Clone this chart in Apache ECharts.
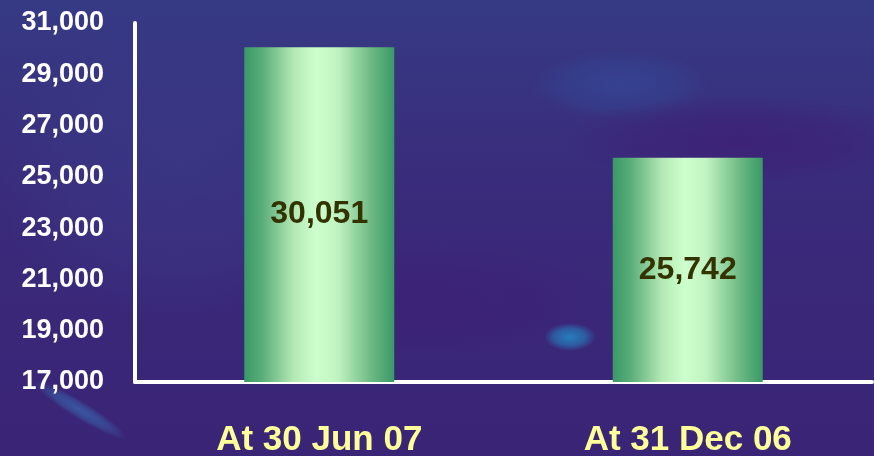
<!DOCTYPE html>
<html>
<head>
<meta charset="utf-8">
<script src="https://cdn.jsdelivr.net/npm/echarts@6/dist/echarts.min.js"></script>
<style>
  html, body { margin: 0; padding: 0; }
  #main { width: 874px; height: 456px; }
</style>
</head>
<body>
<div id="main"></div>
<script>
var categories = ['At 30 Jun 07', 'At 31 Dec 06'];
var values = [30051, 25742];
var yMin = 17000, yMax = 31000, yStep = 2000;

function fmt(n) {
    return String(n).replace(/\B(?=(\d{3})+(?!\d))/g, ',');
}

var font = '"Liberation Sans", Arial, sans-serif';

// green bar, dark edges and light middle
var barColor = new echarts.graphic.LinearGradient(0, 0, 1, 0, [
    {offset: 0, color: '#399966'},
    {offset: 0.12, color: '#5aad7a'},
    {offset: 0.33, color: '#b4e9b6'},
    {offset: 0.48, color: '#ccffcc'},
    {offset: 0.62, color: '#c2f4c2'},
    {offset: 0.85, color: '#6cb883'},
    {offset: 1, color: '#399966'}
]);

// soft blob for the backdrop: a circle that fades out, stretched to an ellipse
function blob(cx, cy, rx, ry, rgb, a, rot) {
    return {
        type: 'circle',
        silent: true,
        z: -10,
        x: cx, y: cy,
        scaleX: rx / 100, scaleY: ry / 100,
        rotation: rot || 0,
        shape: {cx: 0, cy: 0, r: 100},
        style: {
            fill: new echarts.graphic.RadialGradient(0.5, 0.5, 0.5, [
                {offset: 0, color: 'rgba(' + rgb + ',' + a + ')'},
                {offset: 0.6, color: 'rgba(' + rgb + ',' + (a * 0.6) + ')'},
                {offset: 1, color: 'rgba(' + rgb + ',0)'}
            ])
        }
    };
}

var myChart = echarts.init(document.getElementById('main'));

var option = {
    backgroundColor: new echarts.graphic.LinearGradient(0, 0, 0, 1, [
        {offset: 0, color: '#363a84'},
        {offset: 0.45, color: '#3a2a7a'},
        {offset: 1, color: '#3a2476'}
    ]),
    graphic: [
        blob(180, 170, 190, 150, '58,64,140', 0.45),
        blob(620, 85, 90, 35, '50,80,160', 0.5),
        blob(740, 140, 180, 45, '66,20,112', 0.45),
        blob(420, 300, 200, 60, '66,22,116', 0.3),
        blob(570, 337, 26, 14, '35,135,195', 0.9),
        blob(80, 410, 55, 9, '55,120,190', 0.6, -0.55)
    ],
    grid: {
        left: 135,
        right: 2,
        top: 23,
        bottom: 74,
        outerBoundsMode: 'none'
    },
    xAxis: {
        type: 'category',
        data: categories,
        axisLine: {lineStyle: {color: '#ffffff', width: 4}},
        axisTick: {show: false},
        axisLabel: {
            color: '#ffff99',
            fontSize: 35,
            fontWeight: 'bold',
            fontFamily: font,
            margin: 41
        }
    },
    yAxis: {
        type: 'value',
        min: yMin,
        max: yMax,
        interval: yStep,
        axisLine: {show: true, lineStyle: {color: '#ffffff', width: 4}},
        axisTick: {show: false},
        splitLine: {show: false},
        axisLabel: {
            color: '#ffffff',
            fontSize: 27,
            fontWeight: 'bold',
            fontFamily: font,
            margin: 31,
            formatter: function (v) { return fmt(v); }
        }
    },
    series: [{
        type: 'bar',
        data: values,
        barWidth: 150,
        itemStyle: {color: barColor},
        label: {
            show: true,
            position: 'inside',
            color: '#333300',
            fontSize: 32,
            fontWeight: 'bold',
            fontFamily: font,
            formatter: function (p) { return fmt(p.value); }
        }
    }]
};

myChart.setOption(option);
</script>
</body>
</html>
